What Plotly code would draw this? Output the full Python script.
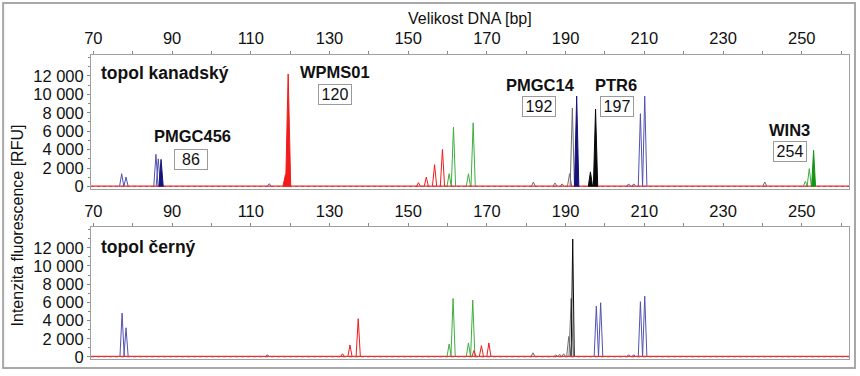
import plotly.graph_objects as go

# ---------------- data ----------------
x_tick_vals = [70, 90, 110, 130, 150, 170, 190, 210, 230, 250]
y_tick_vals = [0, 2000, 4000, 6000, 8000, 10000, 12000]
y_tick_text = ["0", "2 000", "4 000", "6 000", "8 000", "10 000", "12 000"]

# panel 1: topol kanadský   (peak position [bp], height [RFU])
k_blue_pos = [77.2, 78.3, 85.9, 86.5, 114.7, 206.0, 207.3, 209.0, 210.1]
k_blue_h = [1400, 1040, 3500, 3000, 320, 300, 300, 7900, 9800]
k_navy_pos = [87.2, 192.8]
k_navy_h = [2950, 9800]
k_red_pos = [152.6, 154.6, 156.7, 158.7]
k_red_h = [430, 1040, 2380, 4030]
k_redfill_pos = [118.8, 119.5]
k_redfill_h = [1300, 12200]
k_green_pos = [160.4, 161.5, 165.3, 166.5, 250.9, 251.9]
k_green_h = [1400, 6440, 1400, 6900, 580, 1950]
k_greenfill_pos = [253.0]
k_greenfill_h = [3930]
k_gray_pos = [181.8, 187.3, 189.1, 191.0, 191.7, 240.6]
k_gray_h = [500, 400, 300, 1400, 8500, 500]
k_blackfill_pos = [196.3, 197.6]
k_blackfill_h = [1600, 8400]

# panel 2: topol černý
c_blue_pos = [77.3, 78.3, 114.2, 197.8, 198.9, 206.0, 207.3, 209.0, 210.1]
c_blue_h = [4820, 3210, 250, 5600, 5960, 250, 250, 6070, 6680]
c_red_pos = [133.3, 135.2, 137.3, 166.7, 168.6, 170.5]
c_red_h = [360, 1320, 4210, 710, 1250, 1540]
c_green_pos = [160.4, 161.4, 165.3, 166.4]
c_green_h = [1430, 6430, 1540, 6250]
c_gray_pos = [181.7, 187.5, 188.5, 189.5, 190.8, 191.4]
c_gray_h = [460, 250, 300, 350, 2250, 6430]
c_black_pos = [191.8]
c_black_h = [12960]

baseline_level = 60

# marker labels: name, allele size, label position (bp, RFU), box position
marker_names = ["PMGC456", "WPMS01", "PMGC14", "PTR6", "WIN3"]
marker_sizes = ["86", "120", "192", "197", "254"]
marker_name_x = [95.1, 131.4, 183.5, 202.7, 246.9]
marker_name_y = [5510, 12430, 11030, 11030, 6160]
marker_box_x = [94.9, 131.4, 183.3, 203.0, 246.9]
marker_box_y = [2920, 9950, 8650, 8650, 3780]

sample_names = ["topol kanadský", "topol černý"]

# ---------------- styling ----------------
X_RANGE = [69.4, 262.0]
Y_RANGE = [-220, 14250]
FONT = "Liberation Sans, Arial, Helvetica, sans-serif"
BLUE = "#5252b0"
NAVY = "#14147a"
RED = "#f01c1c"
GREEN = "#3fae3f"
DGREEN = "#179417"
GRAY = "#6e6e6e"
BLACK = "#0a0a0a"

L, R, T, B = 91, 10, 55, 14
H = 376 - T - B
W = 860 - L - R


def peaks(pos, h, w):
    xs, ys = [], []
    for p, v in sorted(zip(pos, h)):
        xs += [p - w, p, p + w, None]
        ys += [0, v, 0, None]
    return xs, ys


fig = go.Figure()


def add(pos, h, color, axis, w=0.55, fill=False, lw=1.0):
    xs, ys = peaks(pos, h, w)
    fig.add_trace(go.Scatter(
        x=xs, y=ys, mode="lines", xaxis="x" + axis, yaxis="y" + axis,
        line=dict(color=color, width=lw),
        fill="toself" if fill else None,
        fillcolor=color if fill else None,
        hoverinfo="skip", showlegend=False))


def add_baseline(axis):
    fig.add_trace(go.Scatter(
        x=X_RANGE, y=[baseline_level / 3, baseline_level / 3], mode="lines",
        xaxis="x" + axis, yaxis="y" + axis,
        line=dict(color="#555555", width=0.8, dash="dot"), hoverinfo="skip", showlegend=False))
    fig.add_trace(go.Scatter(
        x=X_RANGE, y=[baseline_level, baseline_level], mode="lines",
        xaxis="x" + axis, yaxis="y" + axis,
        line=dict(color="#ee3030", width=1.3), hoverinfo="skip", showlegend=False))


# top panel
add(k_green_pos, k_green_h, GREEN, "")
add(k_gray_pos, k_gray_h, GRAY, "")
add(k_blue_pos, k_blue_h, BLUE, "")
add(k_red_pos, k_red_h, RED, "")
add_baseline("")
add(k_redfill_pos, k_redfill_h, RED, "", w=0.65, fill=True)
add(k_navy_pos, k_navy_h, NAVY, "", w=0.55, fill=True)
add(k_blackfill_pos, k_blackfill_h, BLACK, "", w=0.55, fill=True)
add(k_greenfill_pos, k_greenfill_h, DGREEN, "", w=0.5, fill=True)

# bottom panel
add(c_green_pos, c_green_h, GREEN, "2")
add(c_gray_pos, c_gray_h, GRAY, "2")
add(c_blue_pos, c_blue_h, BLUE, "2")
add(c_black_pos, c_black_h, BLACK, "2", w=0.4)
add(c_red_pos, c_red_h, RED, "2")
add_baseline("2")

ann = []
for i, name in enumerate(sample_names):
    ax = "" if i == 0 else "2"
    ann.append(dict(x=71.4, y=12350 if i == 0 else 12100, xref="x" + ax, yref="y" + ax,
                    text="<b>%s</b>" % name, showarrow=False, xanchor="left",
                    font=dict(size=17.5, color="#111", family=FONT)))
for n, s, nx, ny, bx, by in zip(marker_names, marker_sizes, marker_name_x, marker_name_y,
                                marker_box_x, marker_box_y):
    ann.append(dict(x=nx, y=ny, xref="x", yref="y", text="<b>%s</b>" % n, showarrow=False,
                    font=dict(size=16.5, color="#111", family=FONT)))
    ann.append(dict(x=bx, y=by, xref="x", yref="y", text=s, showarrow=False,
                    font=dict(size=16, color="#111", family=FONT),
                    bordercolor="#9a9a9a", borderwidth=1, borderpad=1,
                    bgcolor="white", width=30, height=17))

ann.append(dict(x=(471 - L) / W, y=(376 - B - 18) / H, xref="paper", yref="paper",
                xanchor="center", yanchor="middle",
                text="Velikost DNA [bp]", showarrow=False,
                font=dict(size=16, color="#111", family=FONT)))
ann.append(dict(x=(17 - L) / W, y=(376 - B - 227) / H, xref="paper", yref="paper",
                xanchor="center", yanchor="middle",
                text="Intenzita fluorescence [RFU]", showarrow=False, textangle=-90,
                font=dict(size=16, color="#111", family=FONT)))

xcommon = dict(range=X_RANGE, side="top", tickvals=x_tick_vals, ticks="outside", ticklen=3,
               tickcolor="#888", showline=True, linecolor="#a0a0a0", linewidth=1, mirror=True,
               showgrid=False, zeroline=False, tickfont=dict(size=16.5, color="#111", family=FONT),
               minor=dict(dtick=10, tick0=70, ticks="outside", ticklen=3, tickcolor="#888",
                          showgrid=False))
ycommon = dict(range=Y_RANGE, tickvals=y_tick_vals, ticktext=y_tick_text, ticks="outside",
               ticklen=3, tickcolor="#888", showline=True, linecolor="#a0a0a0", linewidth=1,
               mirror=True, showgrid=False, zeroline=False,
               tickfont=dict(size=16.5, color="#111", family=FONT),
               minor=dict(dtick=1000, tick0=0, ticks="outside", ticklen=2, tickcolor="#888",
                          showgrid=False))

fig.update_layout(
    width=860, height=376,
    margin=dict(l=L, r=R, t=T, b=B),
    paper_bgcolor="white", plot_bgcolor="white",
    font=dict(family=FONT),
    xaxis=dict(domain=[0, 1], anchor="y", **xcommon),
    yaxis=dict(domain=[(376 - B - 190) / H, 1], anchor="x", **ycommon),
    xaxis2=dict(domain=[0, 1], anchor="y2", **xcommon),
    yaxis2=dict(domain=[0, (376 - B - 229) / H], anchor="x2", **ycommon),
    annotations=ann,
    shapes=[dict(type="rect", xref="paper", yref="paper",
                 x0=(3 - L) / W, x1=(856 - L) / W,
                 y0=(376 - B - 371) / H, y1=(376 - B - 2.5) / H,
                 line=dict(color="#a8a8a8", width=2))],
    showlegend=False,
)

fig.write_html("out.html", config={"displayModeBar": False},
               post_script="document.body.style.margin='0px';document.body.style.overflow='hidden';")
